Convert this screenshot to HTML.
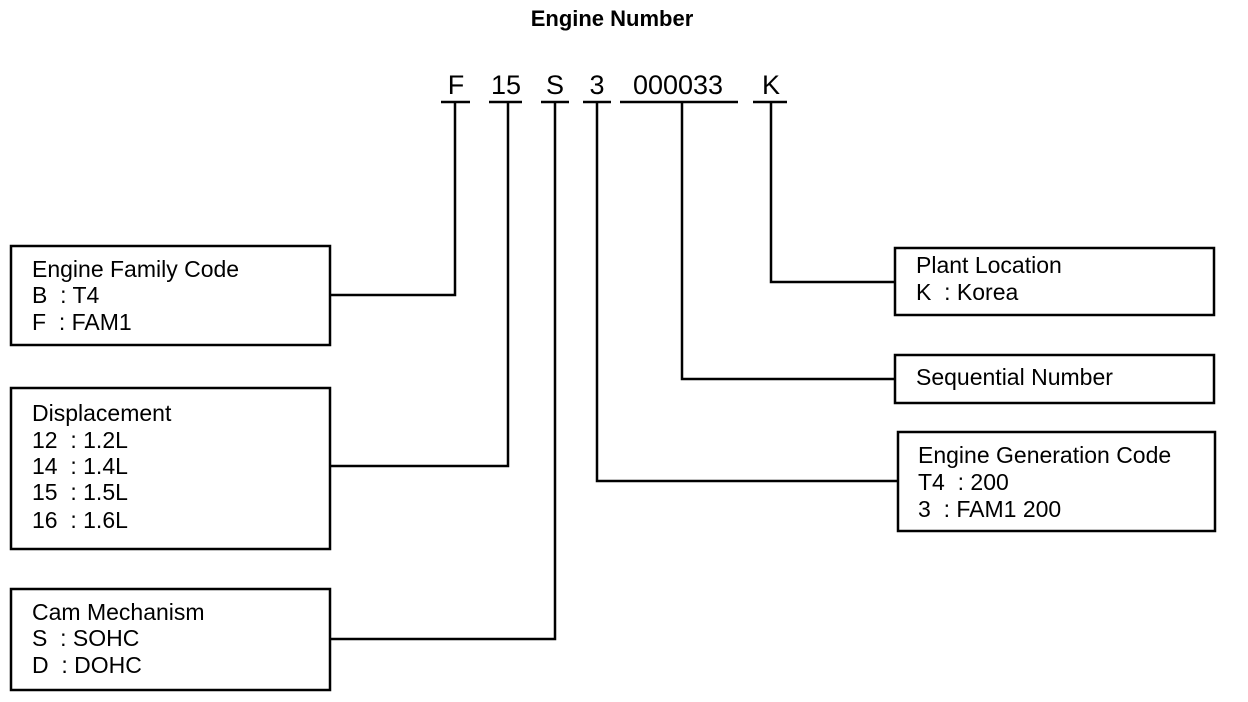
<!DOCTYPE html>
<html><head><meta charset="utf-8"><style>
html,body{margin:0;padding:0;background:#fff;}
svg{display:block;}
text{font-family:"Liberation Sans",Arial,sans-serif;fill:#000;}
</style></head><body>
<svg width="1248" height="702" viewBox="0 0 1248 702" xmlns="http://www.w3.org/2000/svg">
<g stroke="#000" stroke-width="2.5" fill="none">
<rect x="11" y="246" width="319" height="99"/>
<rect x="11" y="388" width="319" height="161"/>
<rect x="11" y="589" width="319" height="101"/>
<rect x="895" y="248" width="319" height="67"/>
<rect x="895" y="355" width="319" height="48"/>
<rect x="898" y="432" width="317" height="99"/>
<!-- underlines -->
<line x1="441" y1="102" x2="470" y2="102"/>
<line x1="489" y1="102" x2="522" y2="102"/>
<line x1="541" y1="102" x2="569" y2="102"/>
<line x1="583" y1="102" x2="611" y2="102"/>
<line x1="620" y1="102" x2="738" y2="102"/>
<line x1="753" y1="102" x2="787" y2="102"/>
<!-- connectors -->
<polyline points="455,102 455,295 330,295"/>
<polyline points="508,102 508,466 330,466"/>
<polyline points="555,102 555,639 330,639"/>
<polyline points="597,102 597,481 898,481"/>
<polyline points="682,102 682,379 895,379"/>
<polyline points="771,102 771,282 895,282"/>
</g>
<text x="612" y="26" font-size="22" font-weight="bold" text-anchor="middle">Engine Number</text>
<g font-size="27" text-anchor="middle">
<text x="456" y="94">F</text>
<text x="506" y="94">15</text>
<text x="555" y="94">S</text>
<text x="597" y="94">3</text>
<text x="678" y="94">000033</text>
<text x="771" y="94">K</text>
</g>
<g font-size="23">
<text x="32" y="277">Engine Family Code</text>
<text x="32" y="303">B&#160;&#160;: T4</text>
<text x="32" y="330">F&#160;&#160;: FAM1</text>
<text x="32" y="421">Displacement</text>
<text x="32" y="448">12&#160;&#160;: 1.2L</text>
<text x="32" y="474">14&#160;&#160;: 1.4L</text>
<text x="32" y="500">15&#160;&#160;: 1.5L</text>
<text x="32" y="528">16&#160;&#160;: 1.6L</text>
<text x="32" y="620">Cam Mechanism</text>
<text x="32" y="646">S&#160;&#160;: SOHC</text>
<text x="32" y="673">D&#160;&#160;: DOHC</text>
<text x="916" y="273">Plant Location</text>
<text x="916" y="300">K&#160;&#160;: Korea</text>
<text x="916" y="385">Sequential Number</text>
<text x="918" y="463">Engine Generation Code</text>
<text x="918" y="490">T4&#160;&#160;: 200</text>
<text x="918" y="517">3&#160;&#160;: FAM1 200</text>
</g>
</svg>
</body></html>
